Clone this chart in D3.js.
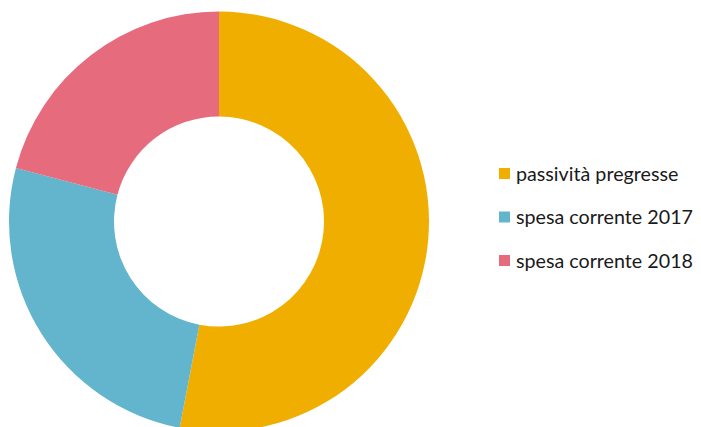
<!DOCTYPE html>
<html>
<head>
<meta charset="utf-8">
<script src="https://cdn.jsdelivr.net/npm/d3@7"></script>
<style>
  body { margin: 0; background: #fff; }
</style>
</head>
<body>
<script>
var categories = ["passività pregresse", "spesa corrente 2017", "spesa corrente 2018"];
var values = [53.0, 26.1, 20.9];
var colors = ["#F0AF00", "#62B5CC", "#E66B7D"];

var svg_width = 701, svg_height = 427;
var cx = 219, cy = 221.5;
var outer_r = 210, inner_r = 105;

var svg = d3.select("body").append("svg")
  .attr("width", svg_width).attr("height", svg_height);

var color = d3.scaleOrdinal().domain(categories).range(colors);

var pie = d3.pie().sort(null).value(function(d) { return d.v; });
var arc = d3.arc().innerRadius(inner_r).outerRadius(outer_r);

var data = categories.map(function(c, i) { return { c: c, v: values[i] }; });

var g = svg.append("g").attr("transform", "translate(" + cx + "," + cy + ")");
g.selectAll("path").data(pie(data)).enter().append("path")
  .attr("d", arc)
  .attr("fill", function(d) { return color(d.data.c); });

// legend
var legend = svg.append("g").attr("transform", "translate(499,168)");
var items = legend.selectAll("g").data(categories).enter().append("g")
  .attr("transform", function(d, i) { return "translate(0," + (i * 43.5) + ")"; });
items.append("rect")
  .attr("width", 11).attr("height", 11)
  .attr("fill", function(d) { return color(d); });
items.append("text")
  .attr("x", 17).attr("y", 8)
  .attr("dominant-baseline", "middle")
  .style("font-family", "Lato, 'Open Sans', sans-serif")
  .style("font-size", "19.7px")
  .attr("fill", "#1a1a1a")
  .text(function(d) { return d; });
</script>
</body>
</html>
